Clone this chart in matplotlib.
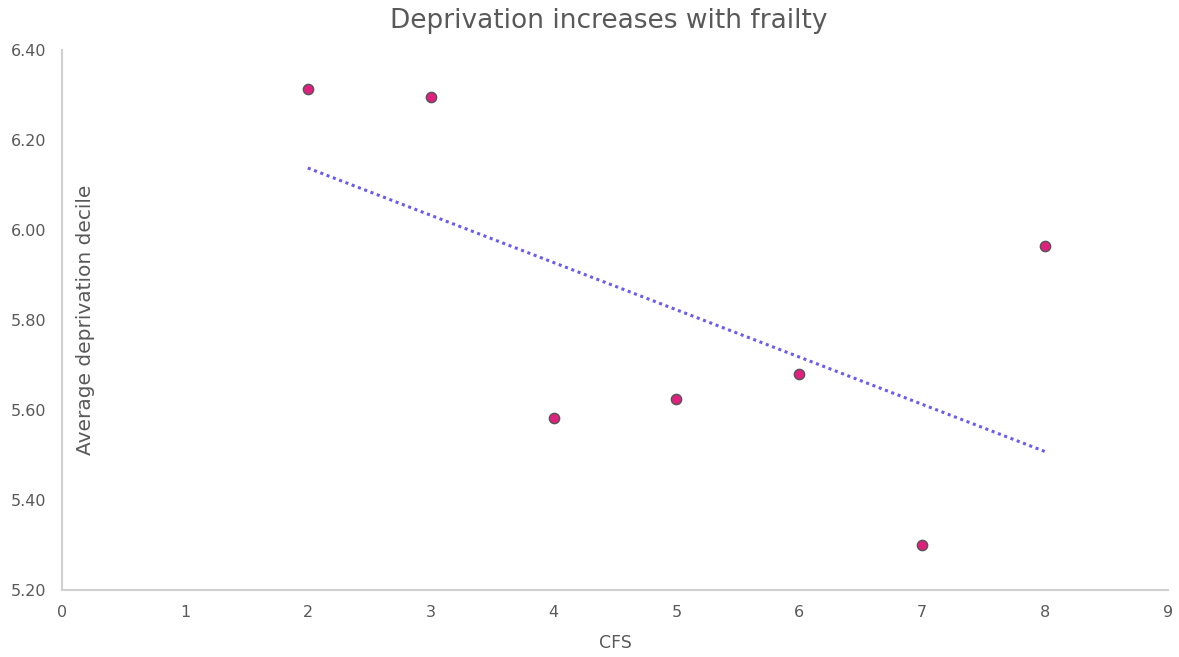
import numpy as np
import matplotlib
matplotlib.use("Agg")
import matplotlib.pyplot as plt

cfs = [2, 3, 4, 5, 6, 7, 8]
deprivation = [6.313, 6.296, 5.582, 5.624, 5.680, 5.300, 5.964]
x_ticks = [0, 1, 2, 3, 4, 5, 6, 7, 8, 9]
y_ticks = [5.20, 5.40, 5.60, 5.80, 6.00, 6.20, 6.40]

plt.rcParams['font.family'] = ['DejaVu Sans']
text_col = '#595959'

fig = plt.figure(figsize=(11.79, 6.57), dpi=100)
ax = fig.add_axes([62/1179, 1 - 590/657, (1168-62)/1179, (590-50)/657])

ax.scatter(cfs, deprivation, s=55, color='#E0207F', edgecolors='#555555',
           linewidths=1.0, zorder=3)

coef = np.polyfit(cfs, deprivation, 1)
xs = np.array([min(cfs), max(cfs)])
ax.plot(xs, np.polyval(coef, xs), linestyle=(0, (1, 1.2)), color='#6A5CF0',
        linewidth=2.2, zorder=2)

ax.set_xlim(0, 9)
ax.set_ylim(5.20, 6.40)
ax.set_xticks(x_ticks)
ax.set_yticks(y_ticks)
ax.set_yticklabels([f"{v:.2f}" for v in y_ticks])
ax.tick_params(length=0, labelsize=11.5, colors=text_col, pad=11)
for s in ['top', 'right']:
    ax.spines[s].set_visible(False)
for s in ['left', 'bottom']:
    ax.spines[s].set_color('#D0D0D0')
    ax.spines[s].set_linewidth(1.5)

ax.set_xlabel('CFS', fontsize=12.5, color=text_col, labelpad=10)
ax.text(0.19, 5.80, 'Average deprivation decile', rotation=90, fontsize=14.5,
        color=text_col, ha='center', va='center')
fig.text(609/1179, 1 - 21/657, 'Deprivation increases with frailty',
         fontsize=19, color=text_col, ha='center', va='center')

fig.savefig('out.png', dpi=100)
